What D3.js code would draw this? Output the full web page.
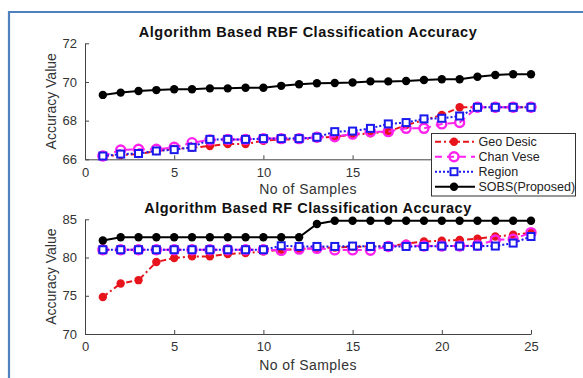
<!DOCTYPE html>
<html>
<head>
<meta charset="utf-8">
<script src="https://cdn.jsdelivr.net/npm/d3@7"></script>
<style>
  body { margin: 0; background: #fff; }
  text { font-family: "Liberation Sans", Arial, sans-serif; }
</style>
</head>
<body>
<div id="chart"></div>
<script>
var width = 583, height = 378;

// samples 1..25
var samples = d3.range(1, 26);

// RBF classification accuracy
var rbfGeo = [66.17, 66.22, 66.27, 66.43, 66.53, 66.6, 66.69, 66.79, 66.79, 66.96, 67.03, 67.03,
  67.1, 67.17, 67.26, 67.35, 67.43, 67.77, 68.03, 68.29, 68.69, 68.69, 68.69, 68.69, 68.69];
var rbfChan = [66.17, 66.48, 66.52, 66.52, 66.62, 66.86, 67.0, 67.03, 67.03, 67.07, 67.07, 67.07,
  67.14, 67.17, 67.3, 67.43, 67.43, 67.6, 67.6, 67.83, 67.9, 68.69, 68.69, 68.69, 68.69];
var rbfRegion = [66.17, 66.27, 66.3, 66.43, 66.5, 66.62, 67.03, 67.03, 67.03, 67.07, 67.07, 67.07,
  67.14, 67.43, 67.46, 67.6, 67.83, 67.9, 68.09, 68.12, 68.24, 68.69, 68.69, 68.69, 68.69];
var rbfSobs = [69.33, 69.45, 69.53, 69.58, 69.62, 69.62, 69.67, 69.67, 69.7, 69.7, 69.8, 69.88,
  69.93, 69.95, 69.97, 70.03, 70.03, 70.05, 70.1, 70.14, 70.14, 70.27, 70.36, 70.4, 70.4];

// RF classification accuracy
var rfGeo = [74.84, 76.61, 77.04, 79.42, 79.94, 80.15, 80.15, 80.46, 80.59, 80.8, 81.02, 81.1,
  81.25, 81.3, 81.4, 81.45, 81.5, 81.8, 82.1, 82.2, 82.3, 82.45, 82.75, 82.97, 83.26];
var rfChan = [81.02, 81.02, 81.02, 81.02, 81.02, 81.02, 81.02, 81.02, 81.02, 81.02, 80.93, 81.1,
  81.2, 81.0, 81.0, 80.95, 81.45, 81.6, 81.5, 81.5, 81.5, 81.6, 82.3, 82.4, 83.26];
var rfRegion = [81.02, 81.02, 81.02, 81.02, 81.02, 81.02, 81.02, 81.02, 81.02, 81.02, 81.54, 81.45,
  81.45, 81.45, 81.5, 81.45, 81.45, 81.45, 81.45, 81.5, 81.5, 81.5, 81.5, 81.89, 82.75];
var rfSobs = [82.22, 82.66, 82.66, 82.66, 82.66, 82.66, 82.66, 82.66, 82.66, 82.66, 82.66, 82.66,
  84.39, 84.82, 84.82, 84.82, 84.82, 84.82, 84.82, 84.82, 84.82, 84.82, 84.82, 84.82, 84.82];

var seriesNames = ["Geo Desic", "Chan Vese", "Region", "SOBS(Proposed)"];
var xTicks = [0, 5, 10, 15, 20, 25];
var rbfTicks = [66, 68, 70, 72];
var rfTicks = [70, 75, 80, 85];

var styles = [
  {color: "#e8141c", dash: "6,3,2,3", marker: "dot"},
  {color: "#ff22ee", dash: "7,5", marker: "ring"},
  {color: "#1a1aee", dash: "2,2", marker: "square"},
  {color: "#000000", dash: null, marker: "dot"}
];

var axisColor = "#444";

var svg = d3.select("#chart").append("svg")
    .attr("width", width)
    .attr("height", height);

svg.append("rect").attr("width", width).attr("height", height).attr("fill", "#fff");

// blue frame
svg.append("path")
    .attr("d", "M9," + height + "V12H" + width)
    .attr("fill", "none")
    .attr("stroke", "#4f81bd")
    .attr("stroke-width", 2.2);

function drawPanel(cfg) {
  var x = d3.scaleLinear().domain([0, 25]).range([85, 531]);
  var y = d3.scaleLinear().domain(cfg.yDomain).range([cfg.bottom, cfg.top]);
  var g = svg.append("g");

  var xa = g.append("g")
      .attr("transform", "translate(0," + cfg.bottom + ")")
      .call(d3.axisBottom(x).tickValues(xTicks).tickFormat(d3.format("d"))
        .tickSizeInner(-4).tickSizeOuter(0).tickPadding(8));
  var ya = g.append("g")
      .attr("transform", "translate(85,0)")
      .call(d3.axisLeft(y).tickValues(cfg.yTicks).tickFormat(d3.format("d"))
        .tickSizeInner(-4).tickSizeOuter(0).tickPadding(8));
  [xa, ya].forEach(function(a) {
    a.select(".domain").attr("stroke", axisColor);
    a.selectAll(".tick line").attr("stroke", axisColor);
    a.selectAll(".tick text").attr("fill", "#333").style("font-size", "13px")
      .style("font-family", "'Liberation Sans', Arial, sans-serif");
  });

  g.append("text")
      .attr("x", 308).attr("y", cfg.titleY)
      .attr("text-anchor", "middle")
      .style("font-size", "14.5px").style("font-weight", "bold")
      .style("letter-spacing", "0.5px")
      .attr("fill", "#111")
      .text(cfg.title);
  g.append("text")
      .attr("x", 308).attr("y", cfg.xLabelY)
      .attr("text-anchor", "middle")
      .style("font-size", "14px")
      .style("letter-spacing", "0.45px")
      .attr("fill", "#333")
      .text("No of Samples");
  g.append("text")
      .attr("transform", "translate(56," + ((cfg.top + cfg.bottom) / 2) + ") rotate(-90)")
      .attr("text-anchor", "middle")
      .style("font-size", "14px")
      .attr("fill", "#333")
      .text("Accuracy Value");

  cfg.series.forEach(function(vals, k) {
    var st = styles[k];
    var pts = samples.map(function(s, i) { return [s, vals[i]]; });
    g.append("path")
        .datum(pts)
        .attr("fill", "none")
        .attr("stroke", st.color)
        .attr("stroke-width", 2)
        .attr("stroke-dasharray", st.dash)
        .attr("d", d3.line().x(function(d) { return x(d[0]); }).y(function(d) { return y(d[1]); }));
    drawMarkers(g, pts.map(function(d) { return [x(d[0]), y(d[1])]; }), st);
  });
}

function drawMarkers(g, pts, st) {
  if (st.marker === "dot") {
    g.selectAll(null).data(pts).enter().append("circle")
        .attr("cx", function(d) { return d[0]; })
        .attr("cy", function(d) { return d[1]; })
        .attr("r", 4.2)
        .attr("fill", st.color);
  } else if (st.marker === "ring") {
    g.selectAll(null).data(pts).enter().append("circle")
        .attr("cx", function(d) { return d[0]; })
        .attr("cy", function(d) { return d[1]; })
        .attr("r", 4.5)
        .attr("fill", "none")
        .attr("stroke", st.color)
        .attr("stroke-width", 2.4);
  } else {
    g.selectAll(null).data(pts).enter().append("rect")
        .attr("x", function(d) { return d[0] - 3.5; })
        .attr("y", function(d) { return d[1] - 3.5; })
        .attr("width", 7).attr("height", 7)
        .attr("fill", "#fff")
        .attr("stroke", st.color)
        .attr("stroke-width", 2);
  }
}

drawPanel({
  top: 43.3, bottom: 159.3, yDomain: [66, 72], yTicks: rbfTicks,
  title: "Algorithm Based RBF Classification Accuracy", titleY: 37, xLabelY: 193.5,
  series: [rbfGeo, rbfChan, rbfRegion, rbfSobs]
});

drawPanel({
  top: 219.3, bottom: 334, yDomain: [70, 85], yTicks: rfTicks,
  title: "Algorithm Based RF Classification Accuracy", titleY: 213, xLabelY: 370,
  series: [rfGeo, rfChan, rfRegion, rfSobs]
});

// legend
var lg = svg.append("g");
lg.append("rect")
    .attr("x", 431.5).attr("y", 133.5)
    .attr("width", 144).attr("height", 62.5)
    .attr("fill", "#fff")
    .attr("stroke", "#333")
    .attr("stroke-width", 1);
seriesNames.forEach(function(name, k) {
  var st = styles[k];
  var cy = 141.7 + k * 15;
  lg.append("line")
      .attr("x1", 435).attr("x2", 475)
      .attr("y1", cy).attr("y2", cy)
      .attr("stroke", st.color)
      .attr("stroke-width", 2)
      .attr("stroke-dasharray", st.dash);
  drawMarkers(lg, [[454, cy]], st);
  lg.append("text")
      .attr("x", 478.5).attr("y", cy + 4.3)
      .style("font-size", "12.5px")
      .attr("fill", "#222")
      .text(name);
});
</script>
</body>
</html>
